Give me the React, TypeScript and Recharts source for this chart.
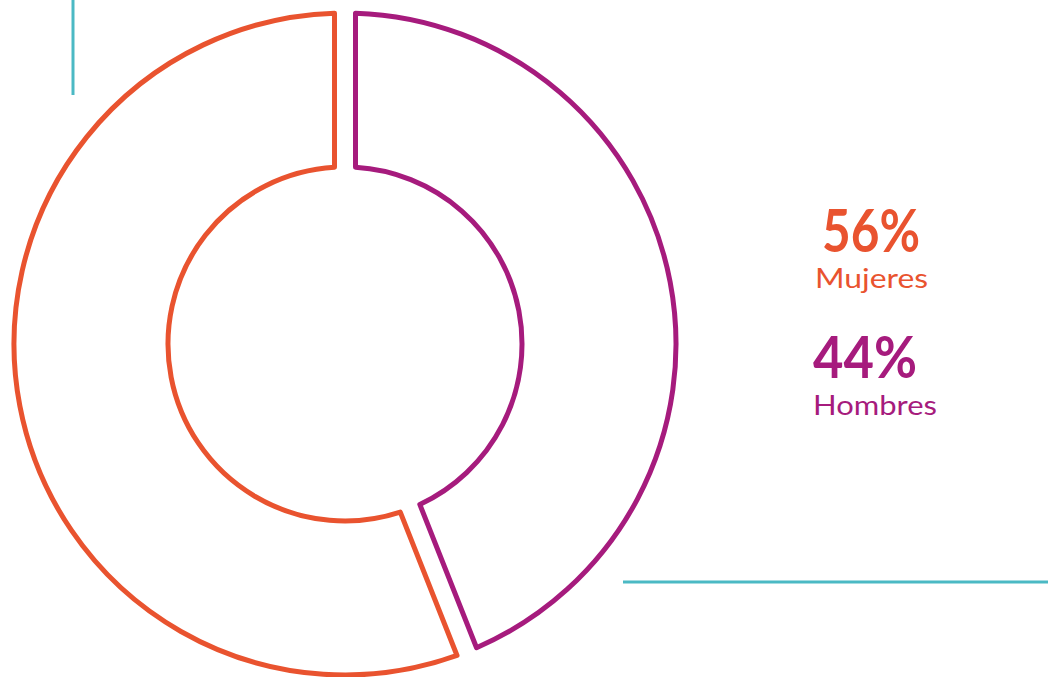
import { PieChart, Pie, Cell } from "recharts";

const categories = ["Hombres", "Mujeres"];
const values = [44, 56];
const labels = ["44%", "56%"];
const colors = ["#A61B7D", "#E9532F"];

const data = categories.map((name, i) => ({ name, value: values[i] }));

const RAD = Math.PI / 180;
const GAP = 10.5; // half of the straight gap between slices, px

// sector with parallel (not angular) gaps on both ends
const GapSector = (props: any) => {
  const { cx, cy, innerRadius, outerRadius, startAngle, endAngle, stroke } = props;
  const sign = endAngle > startAngle ? 1 : -1;
  const pt = (r: number, deg: number) =>
    `${cx + r * Math.cos(deg * RAD)},${cy - r * Math.sin(deg * RAD)}`;
  const dO = Math.asin(GAP / outerRadius) / RAD;
  const dI = Math.asin(GAP / innerRadius) / RAD;
  const a0 = startAngle + sign * dO;
  const a1 = endAngle - sign * dO;
  const b0 = startAngle + sign * dI;
  const b1 = endAngle - sign * dI;
  const large = Math.abs(a1 - a0) > 180 ? 1 : 0;
  const largeI = Math.abs(b1 - b0) > 180 ? 1 : 0;
  const sweep = sign < 0 ? 1 : 0;
  const d =
    `M${pt(outerRadius, a0)} A${outerRadius},${outerRadius} 0 ${large} ${sweep} ${pt(outerRadius, a1)} ` +
    `L${pt(innerRadius, b1)} A${innerRadius},${innerRadius} 0 ${largeI} ${1 - sweep} ${pt(innerRadius, b0)} Z`;
  return (
    <path d={d} fill="#fff" stroke={stroke} strokeWidth={5} strokeLinejoin="round" />
  );
};

export default function App() {
  return (
    <div style={{ position: "absolute", left: 0, top: 0, width: 1048, height: 677, background: "#fff", fontFamily: "Lato, sans-serif" }}>
      <PieChart width={1048} height={677} margin={{ top: 0, right: 0, bottom: 0, left: 0 }}>
        <Pie
          data={data}
          dataKey="value"
          nameKey="name"
          cx={345}
          cy={344}
          innerRadius={177}
          outerRadius={331}
          startAngle={90}
          endAngle={-270}
          paddingAngle={0}
          shape={GapSector}
          isAnimationActive={false}
        >
          {data.map((d, i) => (
            <Cell key={d.name} fill="#fff" stroke={colors[i]} />
          ))}
        </Pie>
      </PieChart>
      <svg width={1048} height={677} style={{ position: "absolute", left: 0, top: 0, pointerEvents: "none" }}>
        <line x1={73} y1={0} x2={73} y2={95} stroke="#4BB9C4" strokeWidth={3} />
        <line x1={623} y1={582} x2={1048} y2={582} stroke="#4BB9C4" strokeWidth={3} />
        <text x={822} y={252} fill={colors[1]} fontSize={60} fontWeight={700} textLength={98} lengthAdjust="spacingAndGlyphs">
          {labels[1]}
        </text>
        <text x={815} y={288} fill={colors[1]} fontSize={26} textLength={113} lengthAdjust="spacingAndGlyphs">
          {categories[1]}
        </text>
        <text x={813} y={378} fill={colors[0]} fontSize={58} fontWeight={700} textLength={104} lengthAdjust="spacingAndGlyphs">
          {labels[0]}
        </text>
        <text x={813} y={415} fill={colors[0]} fontSize={26} textLength={124} lengthAdjust="spacingAndGlyphs">
          {categories[0]}
        </text>
      </svg>
    </div>
  );
}
